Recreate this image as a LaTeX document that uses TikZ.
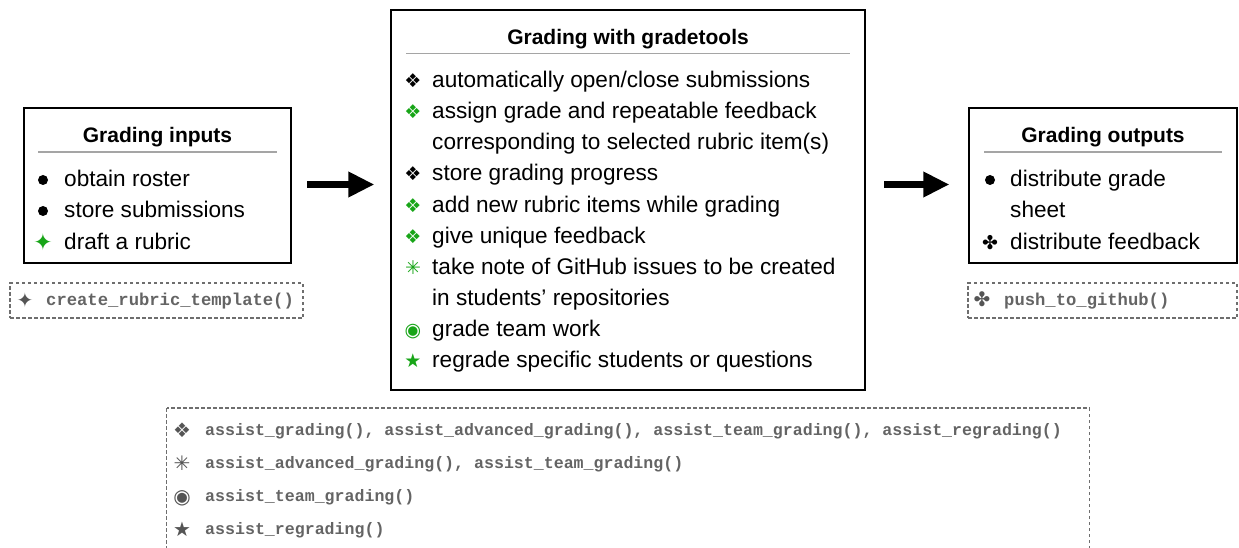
\documentclass[tikz,border=0pt]{standalone}
\usepackage{fontspec}
\setmainfont{Liberation Sans}
\setmonofont{Liberation Mono}
\newfontfamily\symfont{DejaVu Sans}
\usetikzlibrary{arrows.meta}
\definecolor{mygreen}{RGB}{24,165,24}
\definecolor{codegray}{RGB}{100,100,100}
\definecolor{rulegray}{RGB}{165,165,165}
\definecolor{dashgray}{RGB}{110,110,110}
\tikzset{
  box/.style={draw=black, line width=1.2pt, inner sep=0pt},
  dbox/.style={draw=dashgray, line width=1.3pt, dash pattern=on 3.5pt off 2.5pt, inner sep=0pt},
  ttl/.style={anchor=base, font=\fontsize{21}{25}\selectfont\bfseries, inner sep=0pt},
  itm/.style={anchor=base west, font=\fontsize{22.6}{26}\selectfont, inner sep=0pt},
  sym/.style={anchor=base, font=\fontsize{19}{22}\selectfont\symfont, inner sep=0pt},
  dot/.style={circle, fill=black, minimum size=10pt, inner sep=0pt},
  code/.style={anchor=base west, font=\fontsize{17.2}{20}\selectfont\ttfamily\bfseries, text=codegray, inner sep=0pt},
  lcode/.style={code, font=\fontsize{16.6}{20}\selectfont\ttfamily\bfseries},
  csym/.style={anchor=base, font=\fontsize{20}{22}\selectfont\symfont, text=codegray!85!black, inner sep=0pt},
  titlerule/.style={draw=rulegray, line width=1.2pt},
  bigarrow/.style={line width=7pt, -{Triangle[length=26pt,width=24pt]}},
}
\begin{document}
\begin{tikzpicture}[x=1pt,y=-1pt]
\useasboundingbox (0,0) rectangle (1239,548);
% boxes
\node[box, minimum width=267, minimum height=155] (in) at (157.5,185.5) {};
\node[box, minimum width=474, minimum height=380] (mid) at (628,200) {};
\node[box, minimum width=268, minimum height=155] (out) at (1103,185.5) {};
\node[dbox, minimum width=293, minimum height=35] (din) at (156.5,300.5) {};
\node[dbox, minimum width=269, minimum height=35] (dout) at (1102.5,300.5) {};
\path (166.5,408) coordinate (bl) (1089.5,560) coordinate (br);
\draw[dbox] (bl) rectangle (br);

% arrows
\coordinate (a1) at (307,184.5);
\coordinate (a2) at (884,184.5);
\draw[bigarrow] (a1) -- (a1 -| mid.west) [shorten >=16pt];
\draw[bigarrow] (a2) -- (a2 -| out.west) [shorten >=19pt];

% inputs
\node[ttl] (tin) at (157.5,143) {Grading inputs};
\draw[titlerule] (38,152) coordinate (r1a) -- (277,152) coordinate (r1b);
\node[dot] (b1) at (43,180) {};
\node[itm] (i1) at (64,187) {obtain roster};
\node[dot] (b2) at (43,211) {};
\node[itm] (i2) at (64,218) {store submissions};
\node[sym, text=mygreen, font=\fontsize{23}{24}\selectfont\symfont] (b3) at (43,250) {✦};
\node[itm] (i3) at (64,249) {draft a rubric};
\node[csym] (cs1) at (25,307) {✦};
\node[code] (c1) at (46,305) {create\_rubric\_template()};

% middle
\node[ttl] (tmid) at (628,45) {Grading with gradetools};
\draw[titlerule] (406,53.5) -- (850,53.5);
\foreach \y/\c/\s/\t [count=\n] in {
  88/black/❖/{automatically open/close submissions},
  119/mygreen/❖/{assign grade and repeatable feedback},
  181/black/❖/{store grading progress},
  212/mygreen/❖/{add new rubric items while grading},
  243/mygreen/❖/{give unique feedback},
  274/mygreen/✳/{take note of GitHub issues to be created},
  336/mygreen/◉/{grade team work},
  367/mygreen/★/{regrade specific students or questions}}
{
  \node[sym, text=\c] (ms\n) at (413,\y) {\s};
  \node[itm] (mt\n) at (432,\y) {\t};
}
\node[itm] (mt2b) at (432,150) {corresponding to selected rubric item(s)};
\node[itm] (mt6b) at (432,305) {in students’ repositories};

% outputs
\node[ttl] (tout) at (1103,143) {Grading outputs};
\draw[titlerule] (984,152) -- (1222,152);
\node[dot] (ob1) at (990,180) {};
\node[itm] (o1) at (1010,187) {distribute grade};
\node[itm] (o1b) at (1010,218) {sheet};
\node[sym] (ob2) at (990,249) {✤};
\node[itm] (o2) at (1010,249) {distribute feedback};
\node[csym] (cs2) at (982,306) {✤};
\node[code] (c2) at (1004,305) {push\_to\_github()};

% legend
\node[csym] (l1s) at (182,437) {❖};
\node[lcode] (l1) at (205,435) {assist\_grading(), assist\_advanced\_grading(), assist\_team\_grading(), assist\_regrading()};
\node[csym] (l2s) at (182,470) {✳};
\node[lcode] (l2) at (205,468) {assist\_advanced\_grading(), assist\_team\_grading()};
\node[csym] (l3s) at (182,503) {◉};
\node[lcode] (l3) at (205,501) {assist\_team\_grading()};
\node[csym] (l4s) at (182,536) {★};
\node[lcode] (l4) at (205,534) {assist\_regrading()};
\end{tikzpicture}
\end{document}
